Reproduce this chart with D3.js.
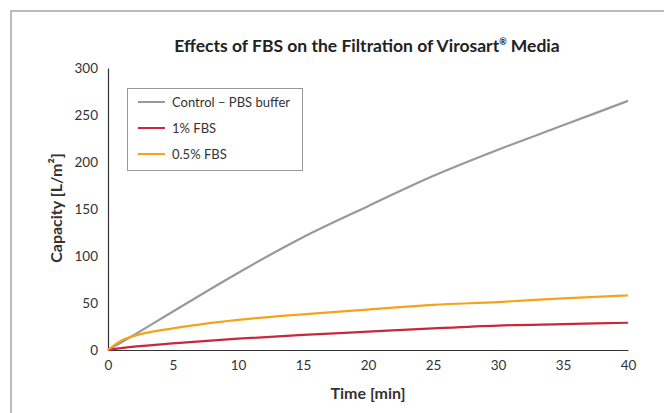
<!DOCTYPE html>
<html>
<head>
<meta charset="utf-8">
<script src="https://cdn.jsdelivr.net/npm/d3@7"></script>
<style>
  body { margin: 0; background: #fff; }
  text { font-family: Lato, "Open Sans", sans-serif; }
</style>
</head>
<body>
<div id="chart"></div>
<script>
// time points in minutes
var times = [0, 1, 2, 5, 10, 15, 20, 25, 30, 35, 40];
var controlPBS = [0, 8, 16, 41, 82, 120, 153, 185, 213, 239, 265];
var fbs1 = [0, 2, 3.5, 7, 12, 16, 19.5, 23, 26, 27.5, 29];
var fbs05 = [0, 10, 15, 23, 32, 38, 43, 48, 51, 55, 58];
var seriesNames = ["Control \u2013 PBS buffer", "1% FBS", "0.5% FBS"];
var seriesColors = ["#999999", "#c8283c", "#f5a31a"];
var xTicks = [0, 5, 10, 15, 20, 25, 30, 35, 40];
var yTicks = [0, 50, 100, 150, 200, 250, 300];

var width = 664, height = 413;
var svg = d3.select("#chart").append("svg")
    .attr("width", width)
    .attr("height", height);

// outer frame
svg.append("rect")
    .attr("x", 11).attr("y", 11)
    .attr("width", 700).attr("height", 500)
    .attr("fill", "none")
    .attr("stroke", "#bbbbbb")
    .attr("stroke-width", 2);

var x = d3.scaleLinear().domain([0, 40]).range([108, 628]);
var y = d3.scaleLinear().domain([0, 300]).range([350, 68]);

var title = svg.append("text")
    .attr("x", 367).attr("y", 52)
    .attr("text-anchor", "middle")
    .attr("font-size", 17.5)
    .attr("font-weight", "bold")
    .attr("fill", "#222");
title.append("tspan").text("Effects of FBS on the Filtration of Virosart");
title.append("tspan").attr("font-size", 9).attr("dy", -7).text("\u00ae");
title.append("tspan").attr("dy", 7).text(" Media");

var xAxis = svg.append("g")
    .attr("transform", "translate(0," + y(0) + ")")
    .call(d3.axisBottom(x).tickValues(xTicks).tickSize(0).tickPadding(10));
var yAxis = svg.append("g")
    .attr("transform", "translate(" + x(0) + ",0)")
    .call(d3.axisLeft(y).tickValues(yTicks).tickSize(0).tickPadding(10));
[xAxis, yAxis].forEach(function(a) {
  a.select(".domain").attr("stroke", "#333").attr("stroke-width", 1.2);
  a.selectAll("text").attr("font-size", 13.5).attr("fill", "#333")
    .attr("font-family", "Lato, 'Open Sans', sans-serif");
});

svg.append("text")
    .attr("x", 368).attr("y", 399)
    .attr("text-anchor", "middle")
    .attr("font-size", 16)
    .attr("font-weight", "bold")
    .attr("fill", "#333")
    .text("Time [min]");

svg.append("text")
    .attr("transform", "translate(62,208) rotate(-90)")
    .attr("text-anchor", "middle")
    .attr("font-size", 16)
    .attr("font-weight", "bold")
    .attr("fill", "#333")
    .text("Capacity [L/m\u00b2]");

var line = d3.line()
    .x(function(d, i) { return x(times[i]); })
    .y(function(d) { return y(d); })
    .curve(d3.curveMonotoneX);

[controlPBS, fbs1, fbs05].forEach(function(s, k) {
  svg.append("path")
      .datum(s)
      .attr("d", line)
      .attr("fill", "none")
      .attr("stroke", seriesColors[k])
      .attr("stroke-width", 2.2);
});

// legend
var lg = svg.append("g");
lg.append("rect")
    .attr("x", 127.5).attr("y", 88.5)
    .attr("width", 175).attr("height", 82)
    .attr("fill", "#fff")
    .attr("stroke", "#999")
    .attr("stroke-width", 1);
seriesNames.forEach(function(n, i) {
  var yy = 102 + i * 26;
  lg.append("line")
      .attr("x1", 138).attr("x2", 165)
      .attr("y1", yy).attr("y2", yy)
      .attr("stroke", seriesColors[i])
      .attr("stroke-width", 2);
  lg.append("text")
      .attr("x", 172).attr("y", yy + 4.5)
      .attr("font-size", 13)
      .attr("fill", "#333")
      .text(n);
});
</script>
</body>
</html>
